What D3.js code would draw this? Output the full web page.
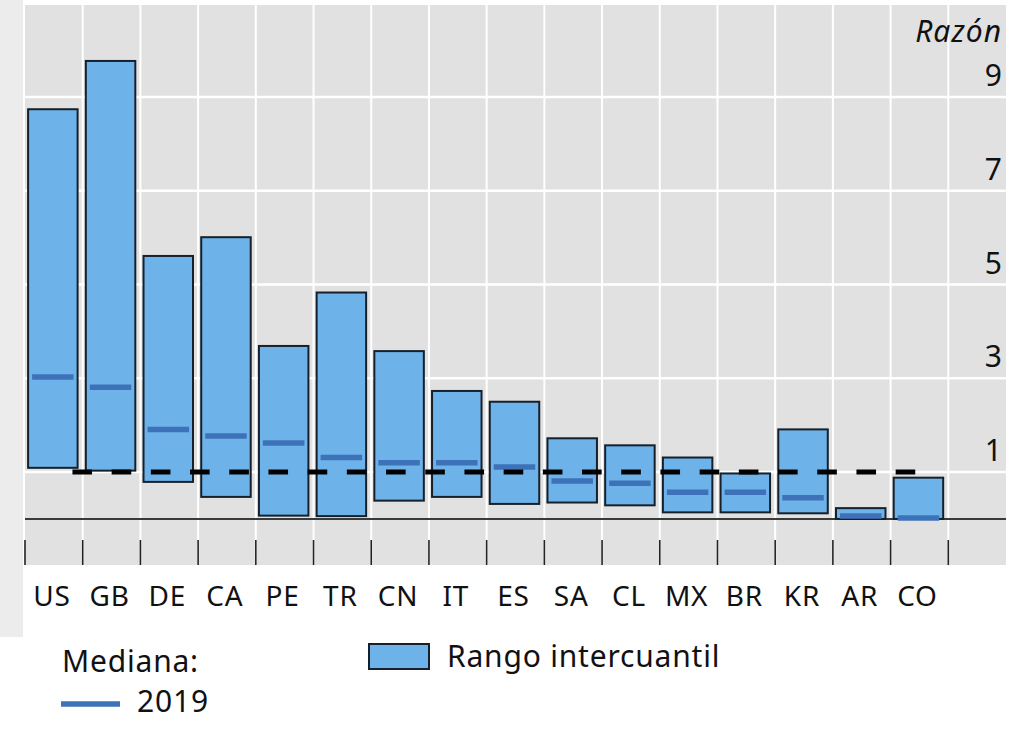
<!DOCTYPE html>
<html>
<head>
<meta charset="utf-8">
<script src="https://cdn.jsdelivr.net/npm/d3@7"></script>
<style>
  body { margin: 0; background: #fff; }
  svg { display: block; font-family: "Noto Sans", "Open Sans", sans-serif; }
</style>
</head>
<body>
<div id="chart"></div>
<script>
// categories and values
var countries = ['US', 'GB', 'DE', 'CA', 'PE', 'TR', 'CN', 'IT', 'ES', 'SA', 'CL', 'MX', 'BR', 'KR', 'AR', 'CO'];
var q75 = [8.74, 9.77, 5.61, 6.01, 3.69, 4.83, 3.58, 2.73, 2.50, 1.72, 1.57, 1.31, 0.97, 1.91, 0.23, 0.88];
var q25 = [1.09, 1.03, 0.79, 0.47, 0.07, 0.06, 0.39, 0.47, 0.32, 0.35, 0.29, 0.14, 0.14, 0.12, 0.00, 0.00];
var median2019 = [3.03, 2.81, 1.91, 1.77, 1.62, 1.31, 1.20, 1.20, 1.11, 0.81, 0.76, 0.57, 0.57, 0.45, 0.06, 0.02];
var refLevel = 1;
var yTicks = [1, 3, 5, 7, 9];

var W = 1013, H = 729;
var plotL = 25, plotR = 1006, plotT = 5, plotB = 565;
var step = (plotR - plotL) / 17;

var svg = d3.select('#chart').append('svg')
    .attr('width', W)
    .attr('height', H);

// light grey strip at the left edge of the page
svg.append('rect')
    .attr('x', 0).attr('y', 0)
    .attr('width', 23).attr('height', 637)
    .attr('fill', '#ececec');

var x = d3.scaleBand()
    .domain(countries)
    .range([plotL, plotL + step * countries.length]);

var y = d3.scaleLinear()
    .domain([-1, 11])
    .range([565.8, 3.3]);

// plot background
svg.append('rect')
    .attr('x', plotL).attr('y', plotT)
    .attr('width', plotR - plotL).attr('height', plotB - plotT)
    .attr('fill', '#e1e1e1');

// vertical grid at category boundaries
var bounds = d3.range(countries.length + 1).map(function(i) { return plotL + i * x.step(); });
svg.append('g').selectAll('line').data(bounds.slice(1)).enter().append('line')
    .attr('x1', function(d) { return d; }).attr('x2', function(d) { return d; })
    .attr('y1', plotT).attr('y2', plotB)
    .attr('stroke', '#fff').attr('stroke-width', 2);

// horizontal grid
svg.append('g').selectAll('line').data(yTicks).enter().append('line')
    .attr('x1', plotL).attr('x2', plotR)
    .attr('y1', function(d) { return y(d); }).attr('y2', function(d) { return y(d); })
    .attr('stroke', '#fff').attr('stroke-width', 2.5);

// zero line
svg.append('line')
    .attr('x1', plotL).attr('x2', plotR)
    .attr('y1', y(0)).attr('y2', y(0))
    .attr('stroke', '#3a3a3a').attr('stroke-width', 2);

// tick marks under the zero line
svg.append('g').selectAll('line').data(bounds).enter().append('line')
    .attr('x1', function(d) { return d; }).attr('x2', function(d) { return d; })
    .attr('y1', 540).attr('y2', plotB)
    .attr('stroke', '#222').attr('stroke-width', 1.6);

var barW = 49.5;
var cx = function(c) { return x(c) + x.bandwidth() / 2 - 1; };

// interquartile boxes
svg.append('g').selectAll('rect').data(countries).enter().append('rect')
    .attr('x', function(d) { return cx(d) - barW / 2; })
    .attr('width', barW)
    .attr('y', function(d, i) { return y(q75[i]); })
    .attr('height', function(d, i) { return y(q25[i]) - y(q75[i]); })
    .attr('fill', '#6db3ea')
    .attr('stroke', '#16202a')
    .attr('stroke-width', 2);

// 2019 medians
svg.append('g').selectAll('line').data(countries).enter().append('line')
    .attr('x1', function(d) { return cx(d) - barW / 2 + 4; })
    .attr('x2', function(d) { return cx(d) + barW / 2 - 4; })
    .attr('y1', function(d, i) { return y(median2019[i]); })
    .attr('y2', function(d, i) { return y(median2019[i]); })
    .attr('stroke', '#3e72b8')
    .attr('stroke-width', 5.5);

// dashed reference line at 1
svg.append('line')
    .attr('x1', cx(countries[0])).attr('x2', cx(countries[countries.length - 1]))
    .attr('y1', y(refLevel)).attr('y2', y(refLevel))
    .attr('stroke', '#000')
    .attr('stroke-width', 5)
    .attr('stroke-dasharray', '19.6,19.6')
    .attr('stroke-dashoffset', 19.6);

// y labels on the right
svg.append('g').selectAll('text').data(yTicks).enter().append('text')
    .attr('x', 1002)
    .attr('y', function(d) { return y(d) - 11; })
    .attr('text-anchor', 'end')
    .attr('font-size', 30)
    .attr('fill', '#111')
    .text(function(d) { return d; });

svg.append('text')
    .attr('x', 1002).attr('y', 42)
    .attr('text-anchor', 'end')
    .attr('font-size', 30)
    .attr('letter-spacing', 1)
    .attr('font-style', 'italic')
    .attr('fill', '#111')
    .text('Razón');

// x labels
svg.append('g').selectAll('text').data(countries).enter().append('text')
    .attr('x', function(d) { return cx(d) - 1; })
    .attr('y', 606)
    .attr('text-anchor', 'middle')
    .attr('font-size', 28)
    .attr('letter-spacing', 0.8)
    .attr('fill', '#111')
    .text(function(d) { return d; });

// legend
var legend = svg.append('g')
    .attr('font-size', 30)
    .attr('letter-spacing', 0.8)
    .attr('fill', '#111');
legend.append('text')
    .attr('x', 62).attr('y', 672)
    .text('Mediana:');
legend.append('line')
    .attr('x1', 61).attr('x2', 120)
    .attr('y1', 704).attr('y2', 704)
    .attr('stroke', '#3e72b8').attr('stroke-width', 5.5);
legend.append('text')
    .attr('x', 137).attr('y', 712)
    .text('2019');
legend.append('rect')
    .attr('x', 369).attr('y', 644)
    .attr('width', 60).attr('height', 25)
    .attr('fill', '#6db3ea')
    .attr('stroke', '#16202a').attr('stroke-width', 2);
legend.append('text')
    .attr('x', 447).attr('y', 667)
    .text('Rango intercuantil');
</script>
</body>
</html>
